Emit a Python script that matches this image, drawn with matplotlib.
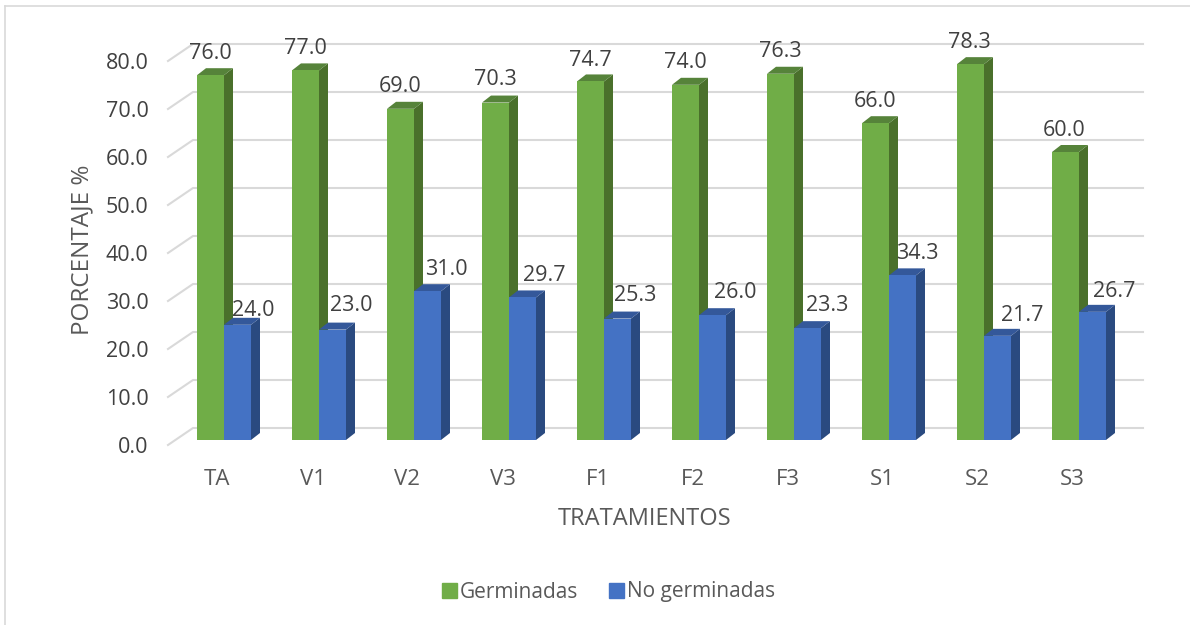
import matplotlib
matplotlib.use('Agg')
import matplotlib.pyplot as plt
from matplotlib.lines import Line2D
from matplotlib.patches import Patch

plt.rcParams['font.family'] = ['Open Sans', 'DejaVu Sans']

TRATAMIENTOS = ['TA', 'V1', 'V2', 'V3', 'F1', 'F2', 'F3', 'S1', 'S2', 'S3']
GERMINADAS = [76.0, 77.0, 69.0, 70.3, 74.7, 74.0, 76.3, 66.0, 78.3, 60.0]
NO_GERMINADAS = [24.0, 23.0, 31.0, 29.7, 25.3, 26.0, 23.3, 34.3, 21.7, 26.7]
Y_TICKS = [0, 10, 20, 30, 40, 50, 60, 70, 80]

# label offsets from each bar top, in pixels
GREEN_LABEL_UP = [22, 22, 22, 23, 21, 22, 22, 22, 22, 22]
GREEN_LABEL_DX = [0, 0, 0, 0, 0, 0, 0, 0, -1, -1]
BLUE_LABEL_UP = [14, 24, 22, 22, 23, 23, 23, 22, 20, 20]
BLUE_LABEL_DX = [16, 19, 19, 22, 18, 23, 20, 15, 25, 22]

W, H = 1190, 625
PX_X = 95.0   # pixels per category
PX_Y = 4.8    # pixels per percent

fig = plt.figure(figsize=(W / 100, H / 100), dpi=100)
ax = fig.add_axes([168 / W, (H - 445) / H, 950 / W, 384 / H])
ax.set_xlim(-0.5, 9.5)
ax.set_ylim(0, 80)
for s in ax.spines.values():
    s.set_visible(False)

# outer frame of the chart
fig.add_artist(Line2D([5 / W, 5 / W], [0, 1 - 6 / H], color='#D9D9D9', lw=1.2))
fig.add_artist(Line2D([5 / W, 1], [1 - 6 / H, 1 - 6 / H], color='#D9D9D9', lw=1.2))

# back wall gridlines and the slanted stubs on the side wall
wall_x = 25 / PX_X
wall_y = 17 / PX_Y
for v in Y_TICKS:
    ax.plot([-0.5, -0.5 + wall_x, 9.5 + wall_x], [v, v + wall_y, v + wall_y],
            color='#D9D9D9', lw=1.5, clip_on=False, zorder=1)

bar_w = 27 / PX_X
shift = 8.5 / PX_X
lift = 5 / PX_Y
dx = 9 / PX_X
dy = 7 / PX_Y


def draw_bars(xs, values, front, side, top, ups, label_dx, z):
    ax.bar(xs, values, width=bar_w, bottom=lift, color=front, clip_on=False, zorder=z + 0.2)
    for x, v, up, ldx in zip(xs, values, ups, label_dx):
        l = x - bar_w / 2
        r = x + bar_w / 2
        t = v + lift
        ax.fill([r, r + dx, r + dx, r], [lift, lift + dy, t + dy, t], color=side, lw=0,
                clip_on=False, zorder=z)
        ax.fill([l, l + dx, r + dx, r], [t, t + dy, t + dy, t], color=top, lw=0,
                clip_on=False, zorder=z)
        ax.annotate('%.1f' % v, (x, t), xytext=(ldx * 0.72, up * 0.72), textcoords='offset points',
                    ha='center', va='center', fontsize=15.5, color='#404040', zorder=10)


pos = range(len(TRATAMIENTOS))
xs_green = [i + shift - bar_w / 2 for i in pos]
xs_blue = [i + shift + bar_w / 2 for i in pos]
draw_bars(xs_green, GERMINADAS, '#70AD47', '#4A702B', '#56833A', GREEN_LABEL_UP, GREEN_LABEL_DX, 2)
draw_bars(xs_blue, NO_GERMINADAS, '#4472C4', '#2A4A80', '#34589A', BLUE_LABEL_UP, BLUE_LABEL_DX, 3)

ax.set_xticks([i + 2 / PX_X for i in pos])
ax.set_xticklabels(TRATAMIENTOS, fontsize=16, color='#595959')
ax.set_yticks(Y_TICKS)
ax.set_yticklabels(['%.1f' % v for v in Y_TICKS], fontsize=15.5, color='#404040', va='center_baseline')
ax.tick_params(axis='x', length=0, pad=17.5)
ax.tick_params(axis='y', length=0, pad=14)

fig.text(645 / W, 1 - 519 / H, 'TRATAMIENTOS', ha='center', va='center', fontsize=17, color='#595959')
fig.text(82 / W, 1 - 250 / H, 'PORCENTAJE %', ha='center', va='center', rotation=90,
         fontsize=17.5, color='#595959')

handles = [Patch(color='#70AD47', label='Germinadas'), Patch(color='#4472C4', label='No germinadas')]
fig.legend(handles=handles, loc='center', bbox_to_anchor=(608.5 / W, 1 - 592 / H), ncol=2, frameon=False,
           fontsize=15, labelcolor='#595959', handlelength=0.72, handleheight=0.72,
           handletextpad=0.14, columnspacing=1.45)

fig.savefig('out.png', dpi=100)
